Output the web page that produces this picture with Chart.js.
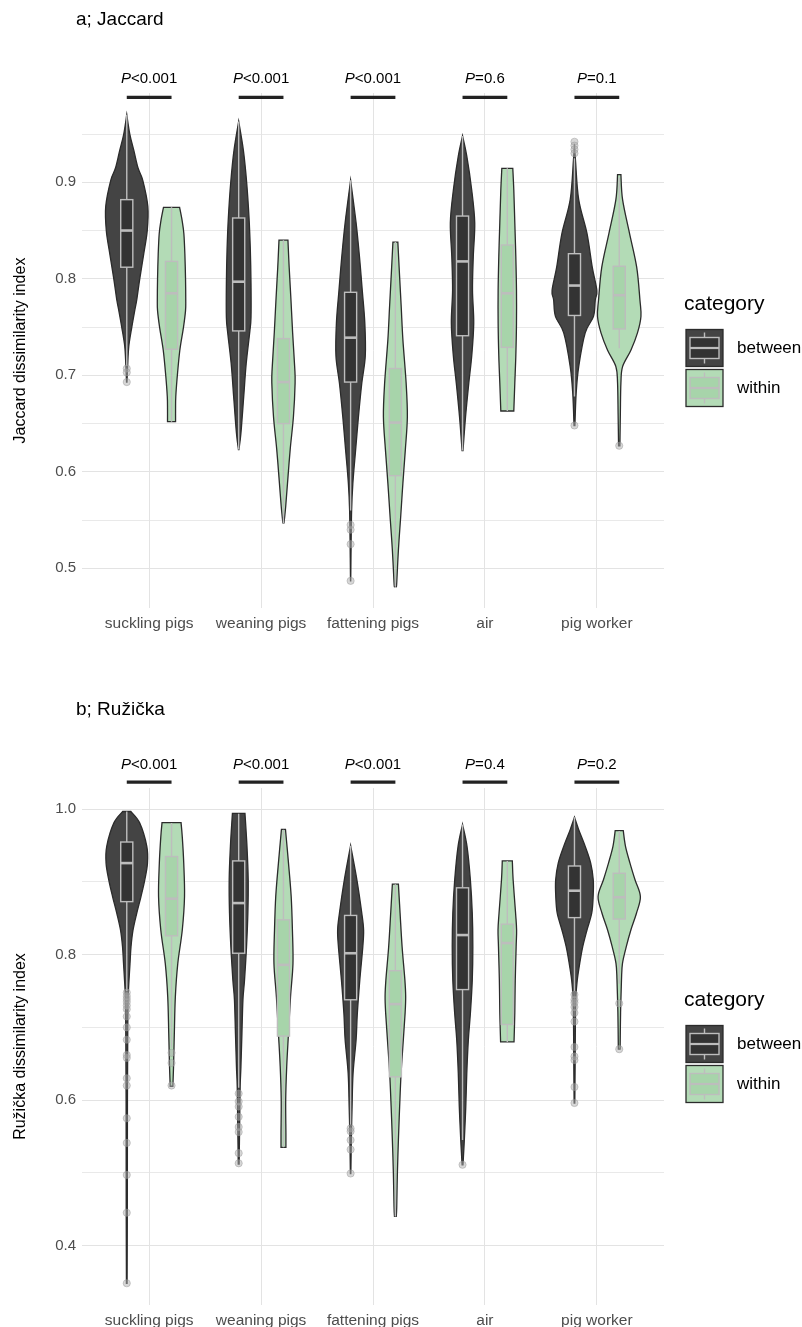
<!DOCTYPE html>
<html>
<head>
<meta charset="utf-8">
<script src="https://cdn.jsdelivr.net/npm/chart.js@4/dist/chart.umd.min.js"></script>
<style>
  body { margin: 0; background: #fff; }
  .wrap { position: relative; width: 802px; height: 1327px; }
  canvas { position: absolute; left: 0; }
</style>
</head>
<body>
<div class="wrap">
  <canvas id="chartJaccard" width="802" height="655" style="top:0"></canvas>
  <canvas id="chartRuzicka" width="802" height="672" style="top:655px"></canvas>
</div>
<script>
const categories = ["suckling pigs", "weaning pigs", "fattening pigs", "air", "pig worker"];
const groups = ["between", "within"];

// violin outlines: [value, half width in category units]
const jacBetweenViolins = [
  [[0.970,0],[0.950,0.027],[0.933,0.063],[0.915,0.100],[0.902,0.143],[0.875,0.188],[0.850,0.183],[0.826,0.152],[0.800,0.116],[0.778,0.089],[0.767,0.071],[0.750,0.045],[0.730,0.018],[0.710,0.008],[0.693,0.002]],
  [[0.963,0],[0.933,0.042],[0.900,0.071],[0.864,0.092],[0.830,0.104],[0.795,0.110],[0.760,0.110],[0.744,0.098],[0.712,0.067],[0.678,0.045],[0.640,0.020],[0.623,0.002]],
  [[0.902,0],[0.858,0.049],[0.823,0.079],[0.788,0.104],[0.754,0.127],[0.720,0.131],[0.692,0.100],[0.657,0.070],[0.623,0.045],[0.588,0.020],[0.560,0.009],[0.520,0.004],[0.487,0.001]],
  [[0.948,0],[0.927,0.038],[0.892,0.082],[0.858,0.109],[0.823,0.096],[0.788,0.089],[0.754,0.100],[0.720,0.082],[0.692,0.056],[0.657,0.027],[0.622,0.004]],
  [[0.940,0],[0.923,0.009],[0.882,0.038],[0.847,0.112],[0.812,0.159],[0.788,0.200],[0.778,0.186],[0.761,0.170],[0.744,0.096],[0.709,0.038],[0.681,0.015],[0.648,0.004]]
];
const jacWithinViolins = [
  [[0.874,0.072],[0.860,0.095],[0.847,0.110],[0.826,0.119],[0.800,0.125],[0.778,0.127],[0.767,0.125],[0.750,0.107],[0.726,0.074],[0.700,0.052],[0.678,0.038],[0.665,0.036],[0.652,0.036]],
  [[0.840,0.040],[0.812,0.051],[0.778,0.067],[0.744,0.082],[0.709,0.100],[0.692,0.104],[0.657,0.089],[0.623,0.060],[0.588,0.036],[0.564,0.020],[0.547,0.005]],
  [[0.838,0.022],[0.806,0.036],[0.771,0.052],[0.737,0.067],[0.692,0.096],[0.657,0.107],[0.623,0.089],[0.588,0.067],[0.553,0.047],[0.519,0.027],[0.485,0.012],[0.481,0.008]],
  [[0.9145,0.049],[0.892,0.058],[0.858,0.067],[0.823,0.076],[0.788,0.082],[0.754,0.082],[0.720,0.076],[0.692,0.067],[0.663,0.058]],
  [[0.908,0.015],[0.882,0.030],[0.847,0.092],[0.812,0.156],[0.778,0.185],[0.761,0.194],[0.744,0.163],[0.726,0.104],[0.709,0.030],[0.692,0.015],[0.660,0.010],[0.627,0.006]]
];
// boxes: [lower whisker, q1, median, q3, upper whisker]
const jacBetweenBoxes = [
  [0.710,0.812,0.850,0.882,0.970],
  [0.623,0.746,0.797,0.863,0.963],
  [0.560,0.693,0.739,0.786,0.902],
  [0.622,0.741,0.818,0.865,0.948],
  [0.678,0.762,0.793,0.826,0.925]
];
const jacWithinBoxes = [
  [0.652,0.727,0.785,0.818,0.874],
  [0.547,0.650,0.693,0.738,0.840],
  [0.481,0.596,0.651,0.707,0.838],
  [0.663,0.729,0.785,0.835,0.9145],
  [0.728,0.748,0.783,0.813,0.905]
];
const jacBetweenOutliers = [
  [0.707,0.703,0.693], [], [0.545,0.540,0.525,0.487], [], [0.942,0.938,0.934,0.930,0.648]
];
const jacWithinOutliers = [[], [], [], [], [0.627]];
const jacPValues = ["<0.001", "<0.001", "<0.001", "=0.6", "=0.1"];
const jacTicks = [0.5, 0.6, 0.7, 0.8, 0.9];

const ruzBetweenViolins = [
  [[0.997,0.036],[0.981,0.116],[0.949,0.179],[0.926,0.185],[0.903,0.161],[0.880,0.127],[0.857,0.089],[0.834,0.056],[0.811,0.038],[0.788,0.029],[0.765,0.020],[0.742,0.013],[0.700,0.009],[0.600,0.006],[0.450,0.005],[0.348,0.003]],
  [[0.9945,0.056],[0.949,0.074],[0.903,0.085],[0.857,0.082],[0.811,0.070],[0.765,0.052],[0.738,0.038],[0.692,0.029],[0.646,0.020],[0.618,0.013],[0.560,0.008],[0.512,0.004]],
  [[0.950,0],[0.903,0.056],[0.857,0.100],[0.834,0.116],[0.811,0.109],[0.765,0.082],[0.719,0.060],[0.683,0.049],[0.637,0.022],[0.591,0.013],[0.550,0.007],[0.499,0.002]],
  [[0.979,0],[0.949,0.040],[0.903,0.070],[0.857,0.087],[0.811,0.092],[0.765,0.087],[0.719,0.070],[0.683,0.052],[0.637,0.038],[0.591,0.029],[0.545,0.016],[0.511,0.004]],
  [[0.989,0],[0.972,0.038],[0.949,0.096],[0.926,0.145],[0.903,0.168],[0.880,0.167],[0.857,0.154],[0.834,0.112],[0.811,0.074],[0.788,0.047],[0.765,0.025],[0.742,0.013],[0.700,0.008],[0.650,0.006],[0.596,0.003]]
];
const ruzWithinViolins = [
  [[0.9816,0.085],[0.962,0.096],[0.926,0.109],[0.880,0.116],[0.834,0.096],[0.788,0.056],[0.742,0.034],[0.692,0.025],[0.646,0.018],[0.619,0.012]],
  [[0.9725,0.018],[0.926,0.045],[0.880,0.069],[0.834,0.080],[0.788,0.085],[0.742,0.063],[0.692,0.045],[0.646,0.029],[0.600,0.020],[0.554,0.022],[0.535,0.022]],
  [[0.897,0.027],[0.857,0.042],[0.811,0.060],[0.765,0.085],[0.742,0.092],[0.720,0.087],[0.683,0.071],[0.637,0.051],[0.591,0.038],[0.545,0.027],[0.500,0.018],[0.453,0.012],[0.440,0.008]],
  [[0.929,0.045],[0.903,0.052],[0.857,0.074],[0.834,0.083],[0.811,0.079],[0.765,0.071],[0.720,0.067],[0.680,0.060]],
  [[0.9706,0.036],[0.949,0.056],[0.926,0.096],[0.903,0.141],[0.880,0.189],[0.857,0.154],[0.834,0.104],[0.811,0.063],[0.788,0.029],[0.765,0.020],[0.720,0.012],[0.670,0.008]]
];
const ruzBetweenBoxes = [
  [0.750,0.873,0.926,0.955,0.997],
  [0.617,0.802,0.871,0.929,0.994],
  [0.566,0.738,0.802,0.854,0.950],
  [0.545,0.752,0.827,0.892,0.979],
  [0.750,0.851,0.888,0.922,0.989]
];
const ruzWithinBoxes = [
  [0.672,0.826,0.877,0.935,0.981],
  [0.535,0.688,0.786,0.848,0.972],
  [0.440,0.632,0.732,0.778,0.897],
  [0.680,0.704,0.816,0.842,0.929],
  [0.760,0.849,0.879,0.912,0.970]
];
const ruzBetweenOutliers = [
  [0.748,0.743,0.739,0.735,0.730,0.725,0.715,0.700,0.683,0.662,0.658,0.630,0.620,0.575,0.541,0.497,0.445,0.348],
  [0.609,0.598,0.591,0.577,0.563,0.556,0.527,0.513],
  [0.561,0.557,0.545,0.532,0.499],
  [0.511],
  [0.745,0.738,0.734,0.728,0.720,0.708,0.673,0.660,0.655,0.618,0.596]
];
const ruzWithinOutliers = [[0.665,0.651,0.620], [], [], [], [0.733,0.670]];
const ruzPValues = ["<0.001", "<0.001", "<0.001", "=0.4", "=0.2"];
const ruzTicks = [0.4, 0.6, 0.8, 1.0];

const DODGE = 0.2, BOX_HW = 0.054;
const FONT = "'Liberation Sans', Arial, sans-serif";
const fills = { between: "#444444", within: "#b3dbb6" };
const boxFills = { between: "#333333", within: "#a7d4aa" };
const outline = "#2b2b2b";
const boxLine = "#bdbdbd";

// Catmull-Rom through points
function curveThrough(ctx, pts) {
  for (let i = 0; i < pts.length - 1; i++) {
    const p0 = pts[i - 1] || pts[i], p1 = pts[i], p2 = pts[i + 1], p3 = pts[i + 2] || p2;
    ctx.bezierCurveTo(p1[0] + (p2[0] - p0[0]) / 6, p1[1] + (p2[1] - p0[1]) / 6,
                      p2[0] - (p3[0] - p1[0]) / 6, p2[1] - (p3[1] - p1[1]) / 6, p2[0], p2[1]);
  }
}

function makePanel(canvasId, cfg) {
  const step = cfg.ticks[1] - cfg.ticks[0];
  const gridValues = [];
  cfg.ticks.forEach((t, i) => {
    if (i === 0 && t - step / 2 >= cfg.min) gridValues.push(+(t - step / 2).toFixed(3));
    gridValues.push(t);
    if (t + step / 2 <= cfg.max) gridValues.push(+(t + step / 2).toFixed(3));
  });

  const violinPlugin = {
    id: "violins",
    beforeDatasetsDraw(chart) {
      const { ctx, chartArea, scales: { x, y } } = chart;
      const unit = x.getPixelForValue(1) - x.getPixelForValue(0);
      ctx.save();
      ctx.beginPath();
      ctx.rect(chartArea.left, chartArea.top, chartArea.right - chartArea.left, chartArea.bottom - chartArea.top);
      ctx.clip();
      groups.forEach((g, gi) => {
        const off = gi === 0 ? -DODGE : DODGE;
        categories.forEach((c, i) => {
          const cx = x.getPixelForValue(i + off);
          const v = cfg.violins[g][i];
          const left = v.map(p => [cx - p[1] * unit, y.getPixelForValue(p[0])]);
          const right = v.map(p => [cx + p[1] * unit, y.getPixelForValue(p[0])]).reverse();
          ctx.beginPath();
          ctx.moveTo(left[0][0], left[0][1]);
          curveThrough(ctx, left);
          ctx.lineTo(right[0][0], right[0][1]);
          curveThrough(ctx, right);
          ctx.closePath();
          ctx.fillStyle = fills[g];
          ctx.fill();
          ctx.lineWidth = 1.3;
          ctx.strokeStyle = outline;
          ctx.stroke();

          // box plot
          const b = cfg.boxes[g][i];
          const bw = BOX_HW * unit;
          const [yLo, yQ1, yMed, yQ3, yHi] = b.map(val => y.getPixelForValue(val));
          ctx.strokeStyle = boxLine;
          ctx.lineWidth = 1.4;
          ctx.beginPath();
          ctx.moveTo(cx, yHi); ctx.lineTo(cx, yQ3);
          ctx.moveTo(cx, yQ1); ctx.lineTo(cx, yLo);
          ctx.stroke();
          ctx.fillStyle = boxFills[g];
          ctx.fillRect(cx - bw, yQ3, 2 * bw, yQ1 - yQ3);
          ctx.strokeRect(cx - bw, yQ3, 2 * bw, yQ1 - yQ3);
          ctx.lineWidth = 2.6;
          ctx.beginPath();
          ctx.moveTo(cx - bw, yMed); ctx.lineTo(cx + bw, yMed);
          ctx.stroke();
        });
      });
      ctx.restore();
    },
    afterDraw(chart) {
      const { ctx, chartArea, scales: { x, y } } = chart;
      ctx.save();
      // panel title
      ctx.fillStyle = "#000";
      ctx.font = "19px " + FONT;
      ctx.textBaseline = "middle";
      ctx.textAlign = "left";
      ctx.fillText(cfg.title, 76, cfg.titleY);

      // p-value annotations
      cfg.pValues.forEach((p, i) => {
        const yBar = y.getPixelForValue(cfg.barValue);
        ctx.strokeStyle = "#222";
        ctx.lineWidth = 3.2;
        ctx.beginPath();
        ctx.moveTo(x.getPixelForValue(i - DODGE), yBar);
        ctx.lineTo(x.getPixelForValue(i + DODGE), yBar);
        ctx.stroke();
        const yText = y.getPixelForValue(cfg.textValue);
        ctx.font = "italic 15px " + FONT;
        const wP = ctx.measureText("P").width;
        ctx.font = "15px " + FONT;
        const wR = ctx.measureText(p).width;
        const x0 = x.getPixelForValue(i) - (wP + wR) / 2;
        ctx.fillStyle = "#000";
        ctx.font = "italic 15px " + FONT;
        ctx.fillText("P", x0, yText);
        ctx.font = "15px " + FONT;
        ctx.fillText(p, x0 + wP, yText);
      });

      // legend
      const mid = (chartArea.top + chartArea.bottom) / 2;
      const lx = chartArea.right + 22;
      ctx.font = "21px " + FONT;
      ctx.fillStyle = "#000";
      ctx.fillText("category", lx - 2, mid - 46);
      groups.forEach((g, gi) => {
        const top = mid - 21 + gi * 40;
        ctx.fillStyle = fills[g];
        ctx.fillRect(lx, top, 37, 37);
        ctx.strokeStyle = outline;
        ctx.lineWidth = 1.3;
        ctx.strokeRect(lx, top, 37, 37);
        const kx = lx + 18.5;
        ctx.strokeStyle = boxLine;
        ctx.lineWidth = 1.4;
        ctx.beginPath();
        ctx.moveTo(kx, top + 3); ctx.lineTo(kx, top + 34);
        ctx.stroke();
        ctx.fillStyle = boxFills[g];
        ctx.fillRect(lx + 4, top + 8, 29, 21);
        ctx.strokeRect(lx + 4, top + 8, 29, 21);
        ctx.lineWidth = 2.2;
        ctx.beginPath();
        ctx.moveTo(lx + 4, top + 18.5); ctx.lineTo(lx + 33, top + 18.5);
        ctx.stroke();
        ctx.fillStyle = "#000";
        ctx.font = "17px " + FONT;
        ctx.fillText(g, lx + 51, top + 19);
      });
      ctx.restore();
    }
  };

  const outlierSet = (g, off) => ({
    label: g,
    data: cfg.outliers[g].flatMap((vals, i) => vals.map(v => ({ x: i + off, y: v }))),
    pointRadius: 3.6,
    pointBackgroundColor: "rgba(175,175,175,0.5)",
    pointBorderColor: "rgba(150,150,150,0.45)",
    pointBorderWidth: 1
  });

  return new Chart(document.getElementById(canvasId), {
    type: "scatter",
    data: { datasets: [outlierSet("between", -DODGE), outlierSet("within", DODGE)] },
    options: {
      responsive: false,
      animation: false,
      layout: { padding: { top: cfg.top, right: 138, left: 0, bottom: 0 } },
      plugins: { legend: { display: false }, tooltip: { enabled: false } },
      scales: {
        x: {
          type: "linear",
          min: -0.6,
          max: 4.6,
          afterBuildTicks: s => { s.ticks = categories.map((c, i) => ({ value: i })); },
          afterFit: s => { s.height = cfg.xAxisHeight; },
          border: { display: false },
          grid: { color: "#e3e3e3", lineWidth: 1, drawTicks: false },
          ticks: {
            padding: 6,
            color: "#4d4d4d",
            font: { family: FONT, size: 15.5 },
            callback: v => categories[v]
          }
        },
        y: {
          min: cfg.min,
          max: cfg.max,
          afterBuildTicks: s => { s.ticks = gridValues.map(v => ({ value: v })); },
          afterFit: s => { s.width = 82; },
          border: { display: false },
          grid: {
            drawTicks: false,
            color: "#e3e3e3",
            lineWidth: c => (cfg.ticks.some(t => Math.abs(t - c.tick.value) < 1e-6) ? 1 : 0.8)
          },
          ticks: {
            padding: 6,
            color: "#4d4d4d",
            font: { family: FONT, size: 15 },
            callback: v => (cfg.ticks.some(t => Math.abs(t - v) < 1e-6) ? v.toFixed(1) : "")
          },
          title: {
            display: true,
            text: cfg.yTitle,
            color: "#000",
            font: { family: FONT, size: 16 },
            padding: { top: 11, bottom: 0 }
          }
        }
      }
    },
    plugins: [violinPlugin]
  });
}

makePanel("chartJaccard", {
  title: "a; Jaccard", titleY: 20, yTitle: "Jaccard dissimilarity index",
  top: 93, xAxisHeight: 47, min: 0.4589, max: 0.9925,
  ticks: jacTicks, pValues: jacPValues, barValue: 0.988, textValue: 1.007,
  violins: { between: jacBetweenViolins, within: jacWithinViolins },
  boxes: { between: jacBetweenBoxes, within: jacWithinBoxes },
  outliers: { between: jacBetweenOutliers, within: jacWithinOutliers }
});

makePanel("chartRuzicka", {
  title: "b; Ružička", titleY: 55, yTitle: "Ružička dissimilarity index",
  top: 133, xAxisHeight: 22, min: 0.3181, max: 1.0293,
  ticks: ruzTicks, pValues: ruzPValues, barValue: 1.0375, textValue: 1.061,
  violins: { between: ruzBetweenViolins, within: ruzWithinViolins },
  boxes: { between: ruzBetweenBoxes, within: ruzWithinBoxes },
  outliers: { between: ruzBetweenOutliers, within: ruzWithinOutliers }
});
</script>
</body>
</html>
